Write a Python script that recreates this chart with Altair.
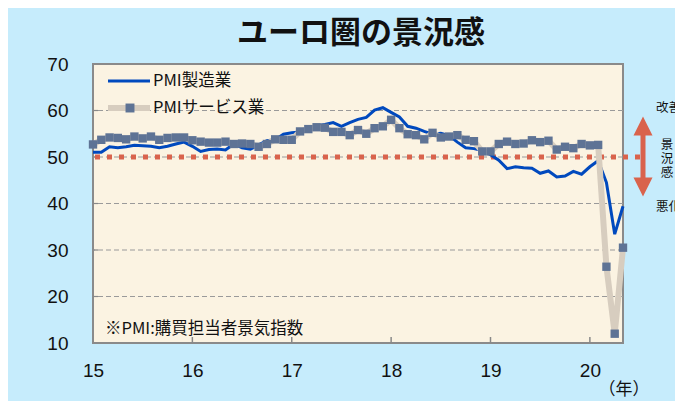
import altair as alt
import pandas as pd

# Monthly PMI, Jan 2015 - May 2020
mfg = [51.0, 51.0, 52.2, 52.0, 52.2, 52.5, 52.4, 52.3, 52.0, 52.3, 52.8, 53.2,
       52.3, 51.2, 51.6, 51.7, 51.5, 52.8, 52.0, 51.7, 52.6, 53.5, 53.7, 54.9,
       55.2, 55.4, 56.2, 56.7, 57.0, 57.4, 56.6, 57.4, 58.1, 58.5, 60.1, 60.6,
       59.6, 58.6, 56.6, 56.2, 55.5, 54.9, 55.1, 54.6, 53.2, 52.0, 51.8, 51.4,
       50.5, 49.3, 47.5, 47.9, 47.7, 47.6, 46.5, 47.0, 45.7, 45.9, 46.9, 46.3,
       47.9, 49.2, 44.5, 33.4, 39.4]
svc = [52.7, 53.7, 54.2, 54.1, 53.8, 54.4, 54.0, 54.4, 53.7, 54.1, 54.2, 54.2,
       53.6, 53.3, 53.1, 53.1, 53.3, 52.8, 52.9, 52.8, 52.2, 52.8, 53.8, 53.7,
       53.7, 55.5, 56.0, 56.4, 56.3, 55.4, 55.4, 54.7, 55.8, 55.0, 56.2, 56.6,
       58.0, 56.2, 54.9, 54.7, 53.8, 55.2, 54.2, 54.4, 54.7, 53.7, 53.4, 51.2,
       51.2, 52.8, 53.3, 52.8, 52.9, 53.6, 53.2, 53.5, 51.6, 52.2, 51.9, 52.8,
       52.5, 52.6, 26.4, 12.0, 30.5]
year_labels = ["15", "16", "17", "18", "19", "20"]
y_ticks = [10, 20, 30, 40, 50, 60, 70]
grid_vals = [20, 30, 40, 50, 60]
threshold = [50]

W, H = 530, 279
FONT_NUM = "Liberation Sans"
FONT_JP = "Noto Sans CJK JP"
BLUE = "#0049BE"
BEIGE = "#D7CDBF"
SQ = "#5E7395"
RED = "#D9634C"

df = pd.DataFrame({"m": list(range(len(mfg))), "mfg": mfg, "svc": svc})
one = pd.DataFrame({"a": [0]})
xs = alt.Scale(domain=[0, len(mfg) - 1], nice=False, zero=False)
ys = alt.Scale(domain=[10, 70], nice=False, zero=False)
year_pos = [12 * i for i in range(len(year_labels))]
label_expr = "[" + ",".join("'%s'" % s for s in year_labels) + "][round(datum.value/12)]"

x_enc = alt.X("m:Q", scale=xs, axis=alt.Axis(values=year_pos, labelExpr=label_expr, ticks=False,
                                             domain=False, grid=False, labelFont=FONT_NUM,
                                             labelFontSize=19, labelColor="#111", labelPadding=18,
                                             labelFlush=False, title=None))
y_axis = alt.Axis(values=y_ticks, ticks=False, domain=False, grid=False, labelFont=FONT_NUM,
                  labelFontSize=19, labelColor="#111", labelPadding=25, title=None)

grid = alt.Chart(pd.DataFrame({"g": grid_vals})).mark_rule(
    color="#9a9a9a", strokeWidth=1.2, strokeDash=[5, 3]
).encode(y=alt.Y("g:Q", scale=ys, axis=y_axis))

yt = alt.Chart(pd.DataFrame({"g": grid_vals})).mark_rule(color="#888", strokeWidth=1.2).encode(
    y=alt.Y("g:Q", scale=ys), x=alt.value(0), x2=alt.value(5))
xt = alt.Chart(pd.DataFrame({"m": year_pos[1:]})).mark_rule(color="#888", strokeWidth=1.5).encode(
    x=alt.X("m:Q", scale=xs), y=alt.value(H - 6), y2=alt.value(H))

red = alt.Chart(pd.DataFrame({"t": threshold})).mark_rule(
    color=RED, strokeWidth=5, strokeDash=[5, 7]
).encode(y=alt.Y("t:Q", scale=ys), x=alt.value(2), x2=alt.value(W + 18))

base = alt.Chart(df)
line_m = base.mark_line(color=BLUE, strokeWidth=3).encode(x=x_enc, y=alt.Y("mfg:Q", scale=ys))
line_s = base.mark_line(color=BEIGE, strokeWidth=6).encode(x=alt.X("m:Q", scale=xs), y=alt.Y("svc:Q", scale=ys))
pts_s = base.mark_point(shape="square", filled=True, size=70, color=SQ, opacity=1).encode(
    x=alt.X("m:Q", scale=xs), y=alt.Y("svc:Q", scale=ys))

# legend
leg_m = alt.Chart(one).mark_rule(color=BLUE, strokeWidth=3).encode(
    x=alt.value(15), x2=alt.value(57), y=alt.value(17))
leg_s = alt.Chart(one).mark_rule(color=BEIGE, strokeWidth=6).encode(
    x=alt.value(15), x2=alt.value(57), y=alt.value(44))
leg_sq = alt.Chart(one).mark_point(shape="square", filled=True, size=80, color=SQ, opacity=1).encode(
    x=alt.value(37), y=alt.value(44))


def txt(s, x, y, size=15, align="left", weight="normal", font=FONT_JP, color="#111", baseline="middle", **kw):
    return alt.Chart(one).mark_text(text=s, align=align, baseline=baseline, fontSize=size,
                                    fontWeight=weight, font=font, color=color, **kw).encode(
        x=alt.value(x), y=alt.value(y))


t_leg1 = txt("PMI製造業", 60, 17, size=16.5)
t_leg2 = txt("PMIサービス業", 60, 44, size=16.5)
t_note = txt("※PMI:購買担当者景気指数", 12, 265, size=16.5)
t_title = txt("ユーロ圏の景況感", 268, -30, size=31, align="center", weight="bold")
t_year = txt("（年）", 531, 326, size=17, align="center")
t_up = txt("改善", 563, 44, size=12.5)
t_down = txt("悪化", 563, 143, size=12.5)
t_mid1 = txt("景", 574, 81, size=12.5, align="center")
t_mid2 = txt("況", 574, 95, size=12.5, align="center")
t_mid3 = txt("感", 574, 109, size=12.5, align="center")

# arrow
arr_shaft = alt.Chart(one).mark_rule(color=RED, strokeWidth=5).encode(
    x=alt.value(550), y=alt.value(68), y2=alt.value(116))
arr_up = alt.Chart(one).mark_point(shape="M-1,1L1,1L0,-1Z", filled=True, size=361, color=RED, opacity=1).encode(
    x=alt.value(550), y=alt.value(62))
arr_dn = alt.Chart(one).mark_point(shape="M-1,-1L1,-1L0,1Z", filled=True, size=361, color=RED, opacity=1).encode(
    x=alt.value(550), y=alt.value(123))

chart = alt.layer(
    grid, yt, xt, red, line_m, line_s, pts_s,
    leg_s, leg_sq, leg_m, t_leg1, t_leg2, t_note, t_title, t_year, t_up, t_down,
    t_mid1, t_mid2, t_mid3,
    arr_shaft, arr_up, arr_dn
).properties(
    width=W, height=H,
    padding={"left": 85, "top": 56, "right": 52, "bottom": 58},
    autosize=alt.AutoSizeParams(type="none"),
    background="#C6ECFC",
).configure_view(
    fill="#FBF3E2", stroke="#8a8a8a", strokeWidth=2
)

chart.save("out.html", embed_options={"renderer": "svg", "actions": False})
